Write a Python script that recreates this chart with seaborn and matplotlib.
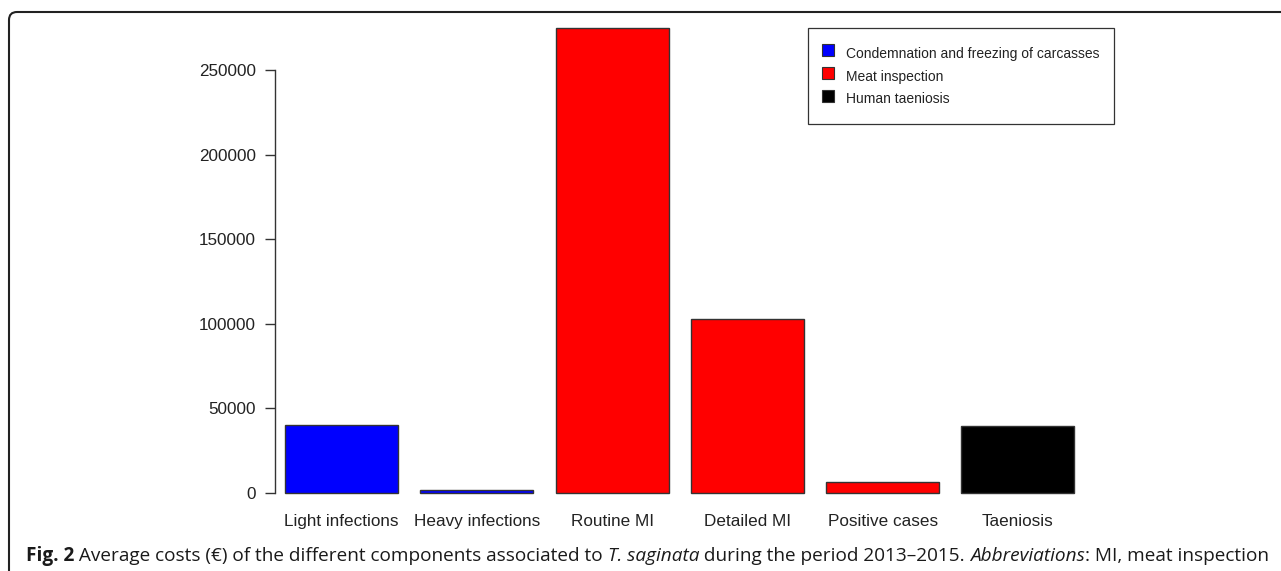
import matplotlib
matplotlib.use("Agg")
import matplotlib.pyplot as plt
import matplotlib.ticker as mticker
from matplotlib.lines import Line2D
from matplotlib.patches import FancyBboxPatch
from matplotlib.transforms import IdentityTransform
import pandas as pd
import seaborn as sns

# DATA
CATEGORIES = ["Light infections", "Heavy infections", "Routine MI",
              "Detailed MI", "Positive cases", "Taeniosis"]
COSTS = [40000, 2000, 275000, 103000, 6300, 39500]
GROUPS = ["Condemnation and freezing of carcasses", "Condemnation and freezing of carcasses",
          "Meat inspection", "Meat inspection", "Meat inspection", "Human taeniosis"]
GROUP_ORDER = ["Condemnation and freezing of carcasses", "Meat inspection", "Human taeniosis"]
GROUP_COLORS = ["#0000ff", "#ff0000", "#000000"]
Y_TICKS = [0, 50000, 100000, 150000, 200000, 250000]

CAPTION = [
    ("Fig. 2", "normal", "bold"),
    (" Average costs (\u20ac) of the different components associated to ", "normal", "normal"),
    ("T. saginata", "italic", "normal"),
    (" during the period 2013\u20132015. ", "normal", "normal"),
    ("Abbreviations", "italic", "normal"),
    (": MI, meat inspection", "normal", "normal"),
]

W, H = 1281, 571
CAPTION_FONT = ["Open Sans", "DejaVu Sans"]


def add_caption(fig, size, x0=26, baseline=561):
    renderer = fig.canvas.get_renderer()
    x = x0
    texts = []
    for s, style, weight in CAPTION:
        t = fig.text(x / W, (H - baseline) / H, s, fontsize=size, fontstyle=style,
                     fontweight=weight, family=CAPTION_FONT, color="#1a1a1a",
                     va="baseline", ha="left")
        x += t.get_window_extent(renderer).width
        texts.append(t)
    return texts, x - x0


def main():
    sns.set_style("white")
    plt.rcParams["font.family"] = ["Liberation Sans", "DejaVu Sans"]

    df = pd.DataFrame({"category": CATEGORIES, "cost": COSTS, "group": GROUPS})
    palette = dict(zip(GROUP_ORDER, GROUP_COLORS))

    fig = plt.figure(figsize=(W / 100, H / 100), dpi=100)
    ax = fig.add_axes([275 / W, (H - 511.6) / H, 824 / W, 502.5 / H])

    sns.barplot(data=df, x="category", y="cost", hue="group", hue_order=GROUP_ORDER,
                palette=palette, dodge=False, width=0.835, edgecolor="#333333",
                linewidth=1.0, saturation=1, legend=False, ax=ax)

    ax.set_xlim(-0.4915, 5.6)
    ax.set_ylim(-11000, 286000)
    ax.set_xlabel("")
    ax.set_ylabel("")

    for side in ["top", "right", "bottom"]:
        ax.spines[side].set_visible(False)
    ax.spines["left"].set_bounds(0, 250000)
    ax.spines["left"].set_color("#333333")
    ax.spines["left"].set_linewidth(1.0)

    ax.set_yticks(Y_TICKS)
    ax.yaxis.set_major_formatter(mticker.FuncFormatter(lambda v, p: f"{v:.0f}"))
    ax.tick_params(axis="y", direction="out", length=7.2, width=1.0, color="#333333",
                   labelsize=12.3, labelcolor="#222222", pad=6.5, left=True)
    ax.tick_params(axis="x", length=0, labelsize=12.3, labelcolor="#222222", pad=1.5)

    # R-style legend: square keys in a plain box
    handles = [Line2D([], [], linestyle="none", marker="s", markersize=8,
                      markerfacecolor=c, markeredgecolor="#333333", markeredgewidth=0.8)
               for c in GROUP_COLORS]
    leg = fig.legend(handles, GROUP_ORDER, loc="upper left",
                     bbox_to_anchor=(808 / W, 1 - 28 / H), fontsize=10,
                     frameon=True, fancybox=False, framealpha=1, edgecolor="#333333",
                     handlelength=0.8, handleheight=2.0, handletextpad=0.85,
                     borderpad=1.05, labelspacing=0.1, borderaxespad=0)
    leg.get_frame().set_linewidth(0.9)
    for t in leg.get_texts():
        t.set_color("#222222")

    # caption made of styled pieces, scaled to span the same width as the original
    texts, width = add_caption(fig, 13.0)
    for t in texts:
        t.remove()
    add_caption(fig, 13.0 * 1236 / width)

    border = FancyBboxPatch((9, -50), 1400, (H - 12) + 50,
                            boxstyle="round,pad=0,rounding_size=8", fill=False,
                            linewidth=1.5, edgecolor="#222222", transform=IdentityTransform())
    fig.add_artist(border)

    fig.savefig("out.png", dpi=100)
    plt.close(fig)


if __name__ == "__main__":
    main()
